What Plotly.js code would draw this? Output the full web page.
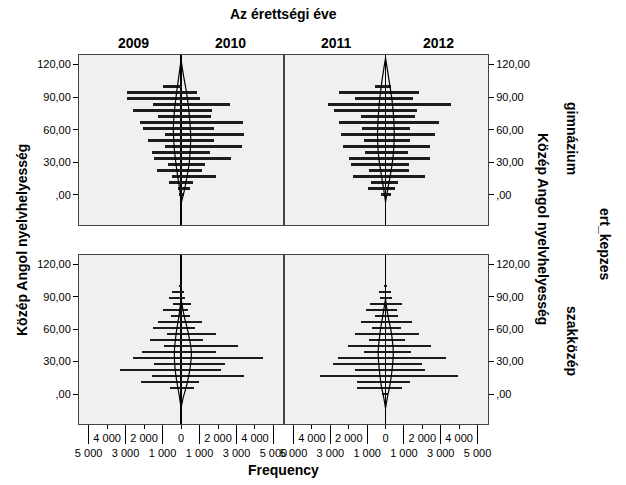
<!DOCTYPE html>
<html>
<head>
<meta charset="utf-8">
<script src="https://cdn.plot.ly/plotly-3.0.1.min.js"></script>
<style>html,body{margin:0;padding:0;background:#fff;}#chart{width:626px;height:485px;}</style>
</head>
<body>
<div id="chart"></div>
<script>
// Bin centres of "Közép Angol nyelvhelyesség" (ascending)
const binCenters = [0, 5.56, 11.11, 16.67, 22.22, 27.78, 33.33, 38.89, 44.44, 50, 55.56, 61.11, 66.67, 72.22, 77.78, 83.33, 88.89, 94.44, 100];

// gimnázium
const gim2009 = [90, 145, 650, 490, 1280, 700, 1460, 1550, 850, 1765, 865, 2050, 2200, 1240, 2610, 1510, 2900, 2940, 980];
const gim2010 = [180, 470, 630, 1870, 1120, 1280, 2700, 1570, 3280, 1765, 3420, 1765, 3330, 1620, 1660, 2630, 1045, 850, 60];
const gim2011 = [255, 980, 780, 1780, 890, 1873, 2000, 1090, 2290, 1145, 2400, 1273, 2527, 1327, 2800, 3145, 1636, 2545, 600];
const gim2012 = [270, 530, 670, 2145, 1255, 1255, 2436, 1236, 2436, 1327, 2710, 1327, 2910, 1580, 1727, 3580, 1510, 1836, 270];
// szakközép
const szak2009 = [0, 600, 2180, 1568, 3280, 1477, 2613, 2108, 919, 1658, 775, 1513, 1243, 540, 991, 414, 667, 486, 90];
const szak2010 = [0, 680, 973, 3423, 2144, 2360, 4432, 1892, 3063, 1207, 1910, 775, 1153, 505, 396, 540, 216, 144, 40];
const szak2011 = [182, 1564, 1564, 3564, 1636, 2836, 2600, 1164, 2055, 873, 1655, 745, 1309, 600, 1073, 836, 327, 382, 73];
const szak2012 = [127, 873, 1309, 3927, 2127, 2000, 3273, 1400, 2473, 1073, 1800, 836, 1418, 691, 618, 891, 327, 309, 55];

// Normal curves (score, frequency)
const curveGim2009Y = [124.3, 110.5, 95.1, 79.7, 62.8, 45.9, 30.5, 15.1, 2.8, -6.5];
const curveGim2009F = [0, 108, 234, 342, 414, 378, 288, 162, 54, 0];
const curveGim2010Y = [124.3, 110.5, 95.1, 76.6, 52, 30.5, 15.1, 2.8, -8];
const curveGim2010F = [0, 126, 288, 432, 523, 450, 306, 162, 0];
const curveGim2011Y = [125.9, 104.3, 82.8, 55.1, 36.6, 21.2, 5.9, -6.5];
const curveGim2011F = [0, 200, 346, 437, 382, 255, 109, 0];
const curveGim2012Y = [125.9, 104.3, 82.8, 58.2, 36.6, 21.2, 5.9, -6.5];
const curveGim2012F = [0, 200, 382, 473, 419, 291, 127, 0];
const curveSzakY = [88.3, 72.9, 57.5, 39, 23.7, 8.3, -4, -13.2];
const curveSzak2009F = [0, 108, 252, 360, 324, 198, 72, 0];
const curveSzak2010F = [0, 162, 378, 558, 486, 306, 108, 0];
const curveSzak2011F = [0, 146, 291, 400, 346, 237, 91, 0];
const curveSzak2012F = [0, 127, 309, 419, 364, 237, 91, 0];

const freqTickVals = [-5000, -4000, -3000, -2000, -1000, 0, 1000, 2000, 3000, 4000, 5000];
const freqTickText = ['<br>5 000', '4 000', '<br>3 000', '2 000', '<br>1 000', '0', '<br>1 000', '2 000', '<br>3 000', '4 000', '<br>5 000'];
const freqLongTicks = [-5000, -3000, -1000, 1000, 3000, 5000];
const scoreTickVals = [0, 30, 60, 90, 120];
const scoreTickText = [',00', '30,00', '60,00', '90,00', '120,00'];

const FONT = 'Liberation Sans, Arial, sans-serif';
const BAR = '#1c1c1c';

function bars(vals, left, xa, ya) {
  return {type: 'bar', orientation: 'h', y: binCenters, x: vals.map(v => left ? -v : v),
    width: 2.5, marker: {color: BAR, line: {width: 0}}, xaxis: xa, yaxis: ya, hoverinfo: 'skip'};
}
function curve(ys, fs, left, xa, ya) {
  return {type: 'scatter', mode: 'lines', y: ys, x: fs.map(v => left ? -v : v),
    line: {color: '#000', width: 1.2, shape: 'spline', smoothing: 1}, xaxis: xa, yaxis: ya, hoverinfo: 'skip'};
}
function emptyTrace(xa, ya) {
  return {type: 'scatter', mode: 'markers', x: [], y: [], xaxis: xa, yaxis: ya, hoverinfo: 'skip', showlegend: false};
}

const data = [
  bars(gim2009, true, 'x', 'y'), bars(gim2010, false, 'x', 'y'),
  bars(gim2011, true, 'x2', 'y2'), bars(gim2012, false, 'x2', 'y2'),
  bars(szak2009, true, 'x3', 'y3'), bars(szak2010, false, 'x3', 'y3'),
  bars(szak2011, true, 'x4', 'y4'), bars(szak2012, false, 'x4', 'y4'),
  curve(curveGim2009Y, curveGim2009F, true, 'x', 'y'), curve(curveGim2010Y, curveGim2010F, false, 'x', 'y'),
  curve(curveGim2011Y, curveGim2011F, true, 'x2', 'y2'), curve(curveGim2012Y, curveGim2012F, false, 'x2', 'y2'),
  curve(curveSzakY, curveSzak2009F, true, 'x3', 'y3'), curve(curveSzakY, curveSzak2010F, false, 'x3', 'y3'),
  curve(curveSzakY, curveSzak2011F, true, 'x4', 'y4'), curve(curveSzakY, curveSzak2012F, false, 'x4', 'y4'),
  emptyTrace('x5', 'y3'), emptyTrace('x6', 'y4')
];

const W = 626, H = 485;
const col1 = [79 / W, 284 / W], col2 = [284 / W, 488 / W];
const rowTop = [1 - 225 / H, 1 - 55 / H], rowBot = [1 - 424 / H, 1 - 255 / H];
const XR = [-5520, 5570], YR = [-27.8, 128.8];

function xAxis(dom, anchor, labelled) {
  const a = {domain: dom, anchor: anchor, range: XR, showgrid: false, zeroline: true,
    zerolinecolor: '#000', zerolinewidth: 1.6, showline: true, mirror: true, linecolor: '#444', linewidth: 1,
    fixedrange: true, automargin: false};
  if (labelled) {
    Object.assign(a, {tickmode: 'array', tickvals: freqTickVals, ticktext: freqTickText, ticks: 'outside',
      ticklen: 4, tickwidth: 1, tickcolor: '#000', tickangle: 0,
      tickfont: {family: FONT, size: 11, color: '#000'}});
  } else {
    Object.assign(a, {showticklabels: false, ticks: ''});
  }
  return a;
}
function longTicks(over, anchor) {
  return {overlaying: over, anchor: anchor, side: 'bottom', range: XR, tickmode: 'array', tickvals: freqLongTicks,
    ticks: 'outside', ticklen: 19, tickwidth: 1, tickcolor: '#000', showticklabels: false,
    showline: false, zeroline: false, showgrid: false, fixedrange: true, automargin: false};
}
function yAxis(dom, anchor, side) {
  return {domain: dom, anchor: anchor, side: side, range: YR, tickmode: 'array', tickvals: scoreTickVals,
    ticktext: scoreTickText, ticks: 'outside', ticklen: 5, tickwidth: 1, tickcolor: '#000',
    tickfont: {family: FONT, size: 11, color: '#000'}, showgrid: false, zeroline: false,
    showline: true, mirror: true, linecolor: '#444', linewidth: 1, fixedrange: true, automargin: false};
}

function ann(text, px, py, angle, size) {
  return {text: '<b>' + text + '</b>', x: px / W, y: 1 - py / H, xref: 'paper', yref: 'paper',
    xanchor: 'center', yanchor: 'middle', showarrow: false, textangle: angle || 0,
    font: {family: FONT, size: size || 14, color: '#000'}};
}

const layout = {
  width: W, height: H, margin: {l: 0, r: 0, t: 0, b: 0}, paper_bgcolor: '#fff', plot_bgcolor: '#f0f0f0',
  showlegend: false, barmode: 'overlay', bargap: 0,
  xaxis: xAxis(col1, 'y', false), xaxis2: xAxis(col2, 'y2', false),
  xaxis3: xAxis(col1, 'y3', true), xaxis4: xAxis(col2, 'y4', true),
  xaxis5: longTicks('x3', 'y3'), xaxis6: longTicks('x4', 'y4'),
  yaxis: yAxis(rowTop, 'x', 'left'), yaxis2: yAxis(rowTop, 'x2', 'right'),
  yaxis3: yAxis(rowBot, 'x3', 'left'), yaxis4: yAxis(rowBot, 'x4', 'right'),
  annotations: [
    ann('Az érettségi éve', 283.5, 14),
    ann('2009', 133, 43), ann('2010', 230, 43), ann('2011', 336, 43), ann('2012', 438, 43),
    ann('Frequency', 283.5, 470),
    ann('Közép Angol nyelvhelyesség', 22, 240, -90),
    ann('Közép Angol nyelvhelyesség', 543, 229, 90),
    ann('gimnázium', 572, 138, 90),
    ann('szakközép', 572, 341, 90),
    ann('ert_kepzes', 605, 244, 90)
  ]
};

Plotly.newPlot('chart', data, layout, {staticPlot: true, displayModeBar: false});
</script>
</body>
</html>
